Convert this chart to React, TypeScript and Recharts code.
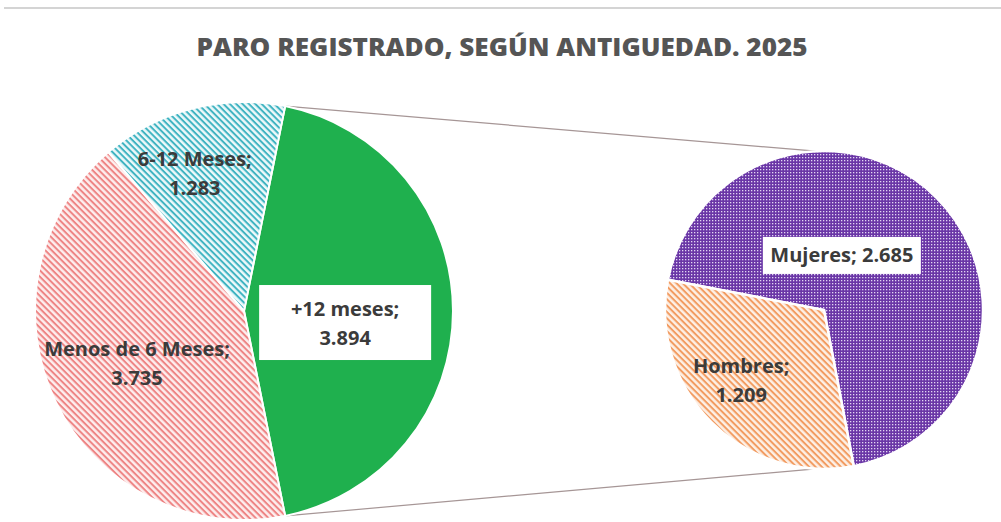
import { PieChart, Pie, Cell } from "recharts";

const TITLE = "PARO REGISTRADO, SEGÚN ANTIGUEDAD. 2025";

const LEFT_NAMES = ["+12 meses", "Menos de 6 Meses", "6-12 Meses"];
const LEFT_VALUES = [3894, 3735, 1283];

const RIGHT_NAMES = ["Mujeres", "Hombres"];
const RIGHT_VALUES = [2685, 1209];

const leftData = LEFT_NAMES.map((name, i) => ({ name, value: LEFT_VALUES[i] }));
const rightData = RIGHT_NAMES.map((name, i) => ({ name, value: RIGHT_VALUES[i] }));

const LEFT_FILLS = ["#1fb04e", "url(#stripePink)", "url(#stripeTeal)"];
const RIGHT_FILLS = ["url(#dotPurple)", "url(#stripeOrange)"];

// chart geometry
const W = 1001;
const H = 522;
const L = { cx: 244, cy: 311, r: 209 };
const R = { cx: 824, cy: 310, r: 159 };

// the split slice (first one) faces the second pie
const leftTotal = LEFT_VALUES.reduce((a, b) => a + b, 0);
const leftStart = (LEFT_VALUES[0] / leftTotal) * 180;
const rightStart = 169;

// label placement: fraction of radius, angle shift from mid angle
const LABEL_LAYOUT: Record<string, { frac: number; da: number; boxed?: boolean; oneLine?: boolean }> = {
  "+12 meses": { frac: 0.487, da: -6.5, boxed: true },
  "Menos de 6 Meses": { frac: 0.569, da: 0 },
  "6-12 Meses": { frac: 0.703, da: 5 },
  Mujeres: { frac: 0.361, da: 27, boxed: true, oneLine: true },
  Hombres: { frac: 0.683, da: -4.6 },
};

const RADIAN = Math.PI / 180;
const polar = (cx: number, cy: number, r: number, a: number) => [
  cx + r * Math.cos(a * RADIAN),
  cy - r * Math.sin(a * RADIAN),
];

const fmt = (n: number) => n.toString().replace(/\B(?=(\d{3})+(?!\d))/g, ".");

const FONT = "'Open Sans', sans-serif";
const LABEL_COLOR = "#3b3b3b";

function renderLabel(props: any) {
  const { cx, cy, midAngle, outerRadius, value } = props;
  const name = props.payload?.name ?? props.name;
  const lay = LABEL_LAYOUT[name];
  if (!lay) return null;
  const [x, y] = polar(cx, cy, outerRadius * lay.frac, midAngle + lay.da);
  const textStyle = { fontFamily: FONT, fontWeight: 700, fontSize: 20, fill: LABEL_COLOR };
  if (lay.oneLine) {
    return (
      <g>
        {lay.boxed && <rect x={x - 79} y={y - 18.5} width={158} height={37} fill="#ffffff" />}
        <text x={x} y={y + 7} textAnchor="middle" style={textStyle}>
          {`${name}; ${fmt(value)}`}
        </text>
      </g>
    );
  }
  return (
    <g>
      {lay.boxed && <rect x={x - 86} y={y - 37.5} width={172} height={75} fill="#ffffff" />}
      <text x={x} y={y - 7} textAnchor="middle" style={textStyle}>
        {`${name};`}
      </text>
      <text x={x} y={y + 22} textAnchor="middle" style={textStyle}>
        {fmt(value)}
      </text>
    </g>
  );
}

export default function App() {
  const [tx1, ty1] = polar(L.cx, L.cy, L.r, leftStart);
  const [bx1, by1] = polar(L.cx, L.cy, L.r, -leftStart);
  const [tx2, ty2] = polar(R.cx, R.cy, R.r, 93);
  const [bx2, by2] = polar(R.cx, R.cy, R.r, -93);

  return (
    <div style={{ position: "absolute", left: 0, top: 0, width: W, height: H, background: "#ffffff" }}>
      <svg width={W} height={H} style={{ position: "absolute", left: 0, top: 0 }}>
        <defs>
          <pattern id="stripePink" width="4.5" height="4.5" patternUnits="userSpaceOnUse" patternTransform="rotate(45)">
            <rect width="4.5" height="4.5" fill="#fdeeee" />
            <rect width="4.5" height="2" fill="#ee8585" />
          </pattern>
          <pattern id="stripeTeal" width="4.5" height="4.5" patternUnits="userSpaceOnUse" patternTransform="rotate(45)">
            <rect width="4.5" height="4.5" fill="#eef9fa" />
            <rect width="4.5" height="2" fill="#40b4c2" />
          </pattern>
          <pattern id="stripeOrange" width="4.5" height="4.5" patternUnits="userSpaceOnUse" patternTransform="rotate(45)">
            <rect width="4.5" height="4.5" fill="#fdf0e6" />
            <rect width="4.5" height="2" fill="#f29c62" />
          </pattern>
          <pattern id="dotPurple" width="3" height="3" patternUnits="userSpaceOnUse">
            <rect width="3" height="3" fill="#6a36a6" />
            <rect x="1" y="1" width="1.3" height="1.3" fill="#e2d6f2" />
          </pattern>
        </defs>
        <line x1={4} y1={8} x2={W} y2={8} stroke="#d4d4d4" strokeWidth={2} />
        <text
          x={502}
          y={56}
          textAnchor="middle"
          textLength={611}
          lengthAdjust="spacingAndGlyphs"
          style={{ fontFamily: FONT, fontWeight: 800, fontSize: 25, fill: "#555555" }}
        >
          {TITLE}
        </text>
        <line x1={tx1} y1={ty1} x2={tx2} y2={ty2} stroke="#a69696" strokeWidth={1.2} />
        <line x1={bx1} y1={by1} x2={bx2} y2={by2} stroke="#a69696" strokeWidth={1.2} />
      </svg>
      <div style={{ position: "absolute", left: 0, top: 0 }}>
        <PieChart width={W} height={H} margin={{ top: 0, right: 0, bottom: 0, left: 0 }}>
          <Pie
            data={leftData}
            dataKey="value"
            nameKey="name"
            cx={L.cx}
            cy={L.cy}
            outerRadius={L.r}
            startAngle={leftStart}
            endAngle={leftStart - 360}
            stroke="#ffffff"
            strokeWidth={2}
            label={renderLabel}
            labelLine={false}
            isAnimationActive={false}
          >
            {leftData.map((d, i) => (
              <Cell key={d.name} fill={LEFT_FILLS[i]} />
            ))}
          </Pie>
          <Pie
            data={rightData}
            dataKey="value"
            nameKey="name"
            cx={R.cx}
            cy={R.cy}
            outerRadius={R.r}
            startAngle={rightStart}
            endAngle={rightStart - 360}
            stroke="#ffffff"
            strokeWidth={2.5}
            label={renderLabel}
            labelLine={false}
            isAnimationActive={false}
          >
            {rightData.map((d, i) => (
              <Cell key={d.name} fill={RIGHT_FILLS[i]} />
            ))}
          </Pie>
        </PieChart>
      </div>
    </div>
  );
}
